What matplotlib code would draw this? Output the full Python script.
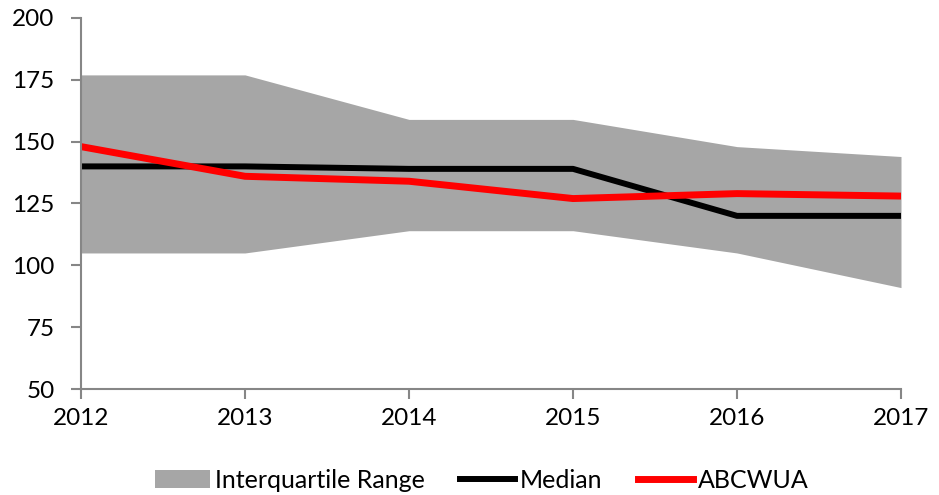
import matplotlib
matplotlib.use("Agg")
import matplotlib.pyplot as plt
from matplotlib.patches import Patch
from matplotlib.lines import Line2D

plt.rcParams['font.family'] = ['Lato', 'DejaVu Sans']

years = [2012, 2013, 2014, 2015, 2016, 2017]
iqr_low = [105, 105, 114, 114, 105, 91]
iqr_high = [177, 177, 159, 159, 148, 144]
median = [140, 140, 139, 139, 120, 120]
abcwua = [148, 136, 134, 127, 129, 128]

axis_col = '#868686'
fill_col = '#A6A6A6'

fig = plt.figure(figsize=(9.39, 4.95), dpi=100)
ax = fig.add_axes([81 / 939, 1 - 389 / 495, 820 / 939, 371 / 495])

ax.fill_between(years, iqr_low, iqr_high, color=fill_col, linewidth=0)
ax.plot(years, median, color='black', linewidth=4.3, solid_capstyle='butt')
ax.plot(years, abcwua, color='#FF0000', linewidth=5, solid_capstyle='butt')

ax.set_xlim(2012, 2017)
ax.set_ylim(50, 200)
ax.set_xticks(years)
ax.set_yticks(range(50, 201, 25))

for s in ['top', 'right']:
    ax.spines[s].set_visible(False)
for s in ['left', 'bottom']:
    ax.spines[s].set_color(axis_col)
    ax.spines[s].set_linewidth(1.5)
ax.tick_params(axis='both', colors=axis_col, width=1.5, length=7,
               labelcolor='black', labelsize=17.5)
ax.tick_params(axis='x', pad=7)
ax.tick_params(axis='y', pad=12)

handles = [Patch(facecolor=fill_col, edgecolor='none', label='Interquartile Range'),
           Line2D([], [], color='black', linewidth=4.3, label='Median'),
           Line2D([], [], color='#FF0000', linewidth=5, label='ABCWUA')]
fig.legend(handles=handles, loc='center', bbox_to_anchor=(0.513, 0.03),
           ncol=3, frameon=False, fontsize=18, handlelength=2.2,
           handletextpad=0.2, columnspacing=1.4)

fig.savefig('out.png', dpi=100)
